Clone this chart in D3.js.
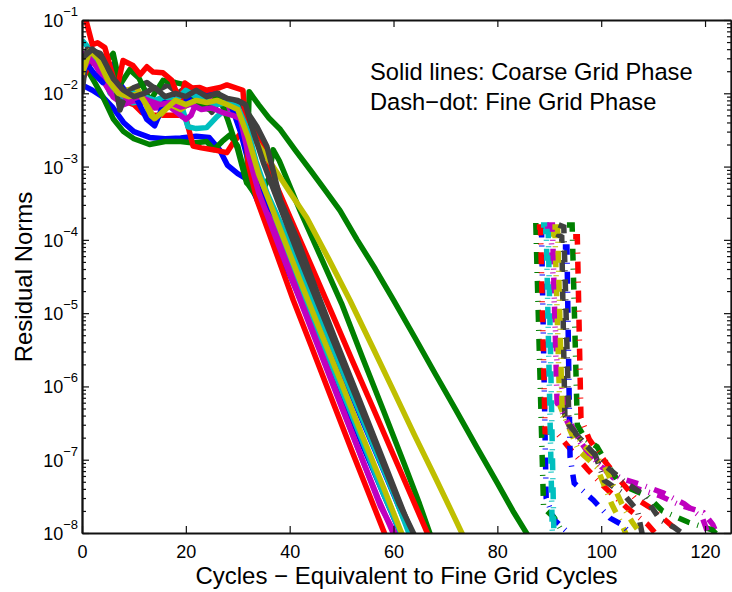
<!DOCTYPE html>
<html>
<head>
<meta charset="utf-8">
<script src="https://cdn.jsdelivr.net/npm/d3@7"></script>
<style>
  body { margin: 0; background: #fff; }
  text { font-family: "Liberation Sans", Arial, sans-serif; fill: #000; }
</style>
</head>
<body>
<svg id="chart" width="732" height="592"></svg>
<script>
// axis ticks
const xTicks = [0, 20, 40, 60, 80, 100, 120];
const yExponents = [-1, -2, -3, -4, -5, -6, -7, -8];

// coarse grid phase (solid) - [cycle, residual]
const coarseBlue1 = [[0,1.3e-2],[2,1.1e-2],[4,8.9e-3],[6,6.3e-3],[8,4e-3],[10,3e-3],[13,2.5e-3],[16,2.4e-3],[19,2.45e-3],[22,2.6e-3],[24.5,2.5e-3],[26.5,1.7e-3],[28,1.05e-3],[30,8e-4],[32,6.6e-4],[34,3.2e-4],[38,7e-5],[42,1.6e-5],[46,3.5e-6],[50,8e-7],[54,1.6e-7],[58,3.5e-8],[61.5,9.3e-9]];
const coarseGreen1 = [[0,2.8e-2],[2,1.6e-2],[4,9e-3],[6,4.5e-3],[8,3e-3],[10,2.4e-3],[13,2e-3],[16,2.2e-3],[19,2.2e-3],[21.5,2.1e-3],[24,2.2e-3],[25.4,1.7e-3],[27,2.2e-3],[28.5,2.7e-3],[30,1.9e-3],[31.8,6e-4],[33.5,4e-4],[35,5e-4],[36,7e-4],[36.8,1.7e-3],[38,1.2e-3],[42,2.5e-4],[46,5.8e-5],[50,1.35e-5],[54,2.5e-6],[58,4.8e-7],[62,9e-8],[65,2.5e-8],[67.2,9e-9]];
const coarseRed1 = [[0,1.5e-2],[2,3e-2],[4,2e-2],[6,1.1e-2],[8,8e-3],[10,7e-3],[11.5,5.5e-3],[12.5,5e-3],[15,5e-3],[18.9,5e-3],[20,4.6e-3],[21.4,1.9e-3],[23,1.8e-3],[25.2,1.7e-3],[27.9,1.55e-3],[29.1,2.1e-3],[30.5,2.8e-3],[32.4,3.5e-3],[34,2.8e-3],[35.6,1.6e-3],[36.5,7.9e-4],[40,2.1e-4],[44,4.7e-5],[48,1.05e-5],[52,2.3e-6],[56,5.2e-7],[60,1.15e-7],[63.5,3.1e-8],[66.7,9.3e-9]];
const coarseCyan1 = [[0,5.3e-2],[1.5,4e-2],[3.5,2.3e-2],[5.4,1e-2],[7.9,8.1e-3],[9.8,7.4e-3],[12,8e-3],[14,7.5e-3],[17,7.9e-3],[19,7.4e-3],[20.4,3.5e-3],[22,3.3e-3],[24,3.4e-3],[26,4.8e-3],[28,6.3e-3],[30,4.5e-3],[32,1.8e-3],[34,6e-4],[38,1.2e-4],[42,2.3e-5],[46,4.5e-6],[50,9e-7],[54,1.8e-7],[58,3.5e-8],[62,8e-9]];
const coarseMagenta1 = [[0,3.5e-2],[2,3.2e-2],[4,1.5e-2],[6,8.9e-3],[8,7e-3],[10,7.9e-3],[12,7.5e-3],[14,6.3e-3],[17,6.5e-3],[19,5e-3],[20,4.4e-3],[21,5e-3],[22.5,9e-3],[25,8.5e-3],[27.5,6.5e-3],[30,5.8e-3],[32,2e-3],[34,5e-4],[38,9e-5],[42,1.6e-5],[46,3e-6],[50,5.5e-7],[54,1e-7],[57,3e-8],[60.2,9e-9]];
const coarseYellow1 = [[0,3e-2],[2,3.5e-2],[4,2.5e-2],[6,1.3e-2],[8.7,1.1e-2],[10.5,1.2e-2],[12,8e-3],[13.7,4e-3],[15,5e-3],[17,7e-3],[19,6e-3],[21,7.5e-3],[23,9e-3],[25,7e-3],[27,7.5e-3],[29,8e-3],[31,7.5e-3],[32.4,3.5e-3],[33.7,2.1e-3],[36.8,1e-3],[40,4.5e-4],[43.3,2e-4],[47.5,5.5e-5],[51.6,1.5e-5],[56,3.4e-6],[60,8.7e-7],[64,2.2e-7],[68,5.8e-8],[71,2.1e-8],[73.5,8.9e-9]];
const coarseGray1 = [[0,1e-2],[1,4e-2],[3.5,3.5e-2],[6,2e-2],[7.3,5.9e-3],[8.5,1e-2],[10,1.2e-2],[12.5,1.4e-2],[14.5,1.1e-2],[16.5,1.3e-2],[18.5,1e-2],[20,1.2e-2],[22,1e-2],[24,7e-3],[25,5.5e-3],[26.5,8e-3],[28,7.6e-3],[30,7.6e-3],[31.5,6e-3],[33.7,3.5e-3],[35.6,1.9e-3],[36.8,8.9e-4],[38.2,3.5e-4],[41.5,1e-4],[45.3,1.9e-5],[49,4e-6],[53,7.8e-7],[57,1.5e-7],[60.5,3.5e-8],[63.8,9e-9]];
const coarseBlue2 = [[0,1.8e-2],[1,2.5e-2],[2.5,1.8e-2],[4,1.4e-2],[5,2.2e-2],[6,2.5e-2],[7.5,1.3e-2],[9,9e-3],[10.5,8.5e-3],[12.5,4.4e-3],[14,3.6e-3],[16,7.9e-3],[18,9e-3],[20,8e-3],[22,9e-3],[24.7,1.1e-2],[27,8e-3],[28.5,7.6e-3],[30.5,3e-3],[32,1.2e-3],[34,5e-4],[37.6,1.9e-4],[42,3.5e-5],[46,7.4e-6],[50,1.6e-6],[54,3.4e-7],[58,7.4e-8],[61,2.3e-8],[63.3,9.5e-9]];
const coarseGreen2 = [[0,2.2e-2],[1.5,3.5e-2],[3,2.8e-2],[4.5,2.6e-2],[6,3.5e-2],[7.3,1.3e-2],[9.2,2.1e-2],[11,1.6e-2],[13.1,7.9e-3],[15.6,1.5e-2],[18,1.4e-2],[20,1.3e-2],[22.7,7e-3],[24.5,6e-3],[26.2,1e-2],[28,4.5e-3],[30,1.7e-3],[31.7,6e-4],[32.2,1.05e-2],[34,7e-3],[36,4.6e-3],[38.2,3.2e-3],[41,1.7e-3],[44,8.9e-4],[47,4.6e-4],[49.7,2.5e-4],[53,1e-4],[56.5,4e-5],[60,1.5e-5],[64,4.8e-6],[68,1.5e-6],[72,4.8e-7],[76,1.5e-7],[80,4.8e-8],[83,2e-8],[86,9e-9]];
const coarseRed2 = [[0,1.6e-1],[2,4.6e-2],[3,4.9e-2],[4.4,4.2e-2],[6.7,1.1e-2],[7.9,2.8e-2],[9.8,2.4e-2],[11.2,1.8e-2],[12.5,2.3e-2],[13.7,1.95e-2],[15.6,1.9e-2],[17.3,1.5e-2],[18.9,7.6e-3],[19.8,1.38e-2],[21.2,1.18e-2],[22.7,1.2e-2],[24,1.1e-2],[26.6,1.2e-2],[27.9,1.3e-2],[31,1.1e-2],[32,1.1e-3],[33.7,3.5e-4],[36,1.25e-4],[40.7,1.5e-5],[44,3.8e-6],[48,7e-7],[52,1.3e-7],[55,3.8e-8],[58.5,9e-9]];
const coarseCyan2 = [[0,2.5e-2],[2,3.5e-2],[4,2e-2],[6,1.2e-2],[8,9e-3],[10,1e-2],[12,9e-3],[14,8e-3],[16,9e-3],[18,8e-3],[20,1.1e-2],[22,9e-3],[24,8e-3],[26,7e-3],[28,7.5e-3],[30,6.5e-3],[32,3e-3],[33.5,1.2e-3],[35.6,4.4e-4],[40,9e-5],[44.5,1.5e-5],[48,3.8e-6],[52,8e-7],[56,1.65e-7],[60,3.5e-8],[63.2,9e-9]];
const coarseMagenta2 = [[0,2e-2],[1.5,3e-2],[3,2.2e-2],[5,1.5e-2],[7,1.1e-2],[9,8e-3],[11,9e-3],[13,7.9e-3],[15,7e-3],[17,7.5e-3],[19,6.5e-3],[21,7.1e-3],[23,6e-3],[25,6.3e-3],[27,5.5e-3],[29,5e-3],[30.5,4.5e-3],[32,1.5e-3],[34,4.5e-4],[38,8e-5],[42,1.5e-5],[46,2.8e-6],[50,5.2e-7],[54,1e-7],[57.5,2.3e-8],[60.6,8.9e-9]];
const coarseYellow2 = [[0,1.8e-2],[1.5,3.8e-2],[3,3e-2],[5,1.5e-2],[7,1e-2],[9,9e-3],[11,1e-2],[13,6e-3],[14,4.5e-3],[16,6e-3],[18,8e-3],[20,7e-3],[22,8e-3],[24,7.5e-3],[26,8e-3],[28,7e-3],[30,6e-3],[32,2.5e-3],[34,8e-4],[38,1.5e-4],[42,2.8e-5],[46,5.5e-6],[50,1.1e-6],[54,2.1e-7],[58,4.3e-8],[61.8,9e-9]];
const coarseGray2 = [[0,3e-2],[2,4e-2],[4,3e-2],[6,1.6e-2],[8,1.1e-2],[10,9e-3],[12,1e-2],[14,1.2e-2],[16,9e-3],[18,1e-2],[20,9e-3],[22,1.1e-2],[24,9e-3],[26,1e-2],[28,8.5e-3],[30,8e-3],[31.5,7e-3],[33,3e-3],[35,1.1e-3],[38,3e-4],[42,5.5e-5],[46,1.1e-5],[50,2.2e-6],[54,4.4e-7],[58,8.8e-8],[61,2.6e-8],[64.2,8.8e-9]];

// fine grid phase (dash-dot)
const fineBlue1 = [[87.8,1.4e-4],[88.5,1.4e-4],[89.4,3e-8],[91,1.5e-8],[94.5,8.9e-9]];
const fineGreen1 = [[87.4,1.7e-4],[88.9,2.2e-8],[91,1.6e-8],[93,9e-9]];
const fineRed1 = [[87.6,1.5e-4],[88.3,1.5e-4],[89.2,2.4e-7],[91.5,2.3e-7],[94.4,1.3e-7],[97.5,7.2e-8],[101,4e-8],[105,2.2e-8],[109,1.3e-8],[111,8.9e-9]];
const fineCyan1 = [[88.4,1.6e-4],[89.4,1.6e-4],[90.6,8.9e-9]];
const fineMagenta1 = [[89.2,1.4e-4],[90.3,1.4e-4],[91.5,2e-6],[93.6,3.7e-7],[96,1.7e-7],[98.5,1e-7],[102.3,5.7e-8],[106.2,4.2e-8],[111.4,3.2e-8],[115.2,2.4e-8],[119.7,1.9e-8],[121.5,1.3e-8],[122.5,9e-9]];
const fineYellow1 = [[89.6,1.2e-4],[91.1,1.2e-4],[92,5.6e-7],[95.6,1.35e-7],[99.2,7.8e-8],[102,2.5e-8],[104,1.3e-8],[105,8.9e-9]];
const fineGray1 = [[91.4,1.2e-4],[92.4,1.1e-4],[93,4e-7],[95.2,2.2e-7],[98.8,1.2e-7],[100.6,5.2e-8],[104.2,3.5e-8],[107,2e-8],[108,8.9e-9]];
const fineBlue2 = [[92.6,8e-5],[93.4,8e-5],[94,1.1e-7],[94.8,4.8e-8],[98.5,2.8e-8],[101.7,1.6e-8],[104,1.3e-8],[106.2,8.9e-9]];
const fineGreen2 = [[93.4,1.6e-4],[94.4,1.6e-4],[95.4,3e-7],[97,1.9e-7],[99.2,1.5e-7],[101.5,8e-8],[103.7,4.6e-8],[108.9,3.2e-8],[111.8,2e-8],[116.8,1.4e-8],[121.4,1.1e-8],[123,8.5e-9]];
const fineRed2 = [[94.6,1.1e-4],[95.4,1.1e-4],[96.1,3.7e-7],[97.7,1.9e-7],[100.8,9.3e-8],[103.3,5.6e-8],[106.5,3e-8],[110,2.1e-8],[113.9,1.2e-8],[115,8.9e-9]];
const fineCyan2 = [[88.8,1.3e-4],[89.8,1.3e-4],[90.9,8.9e-9]];
const fineMagenta2 = [[89.6,1.6e-4],[90.6,1.6e-4],[91.5,6e-7],[94,2.8e-7],[97,1.4e-7],[100,8e-8],[104,5.5e-8],[108,4.5e-8],[112,3.5e-8],[116,2.5e-8],[119.5,1.6e-8],[120.8,8.9e-9]];
const fineYellow2 = [[90.6,1.5e-4],[91.6,1.5e-4],[92.5,4e-7],[96.5,1.6e-7],[100.5,8.5e-8],[104.2,2.3e-8],[106,1.4e-8],[108,8.9e-9]];
const fineGray2 = [[91.8,1.6e-4],[92.8,1.5e-4],[93.8,3e-7],[97,1.6e-7],[101,8e-8],[104.5,5e-8],[108,3.4e-8],[111.4,1.5e-8],[114,1.2e-8],[116.5,8.9e-9]];

const colorOrder = ['#0000ff', '#008000', '#ff0000', '#00bfbf', '#bf00bf', '#bfbf00', '#404040'];

const coarse = [coarseBlue1, coarseGreen1, coarseRed1, coarseCyan1, coarseMagenta1, coarseYellow1, coarseGray1,
                coarseBlue2, coarseGreen2, coarseRed2, coarseCyan2, coarseMagenta2, coarseYellow2, coarseGray2];
const fine = [fineBlue1, fineGreen1, fineRed1, fineCyan1, fineMagenta1, fineYellow1, fineGray1,
              fineBlue2, fineGreen2, fineRed2, fineCyan2, fineMagenta2, fineYellow2, fineGray2];

const svg = d3.select('#chart');
const plotLeft = 82, plotRight = 731, plotTop = 20, plotBottom = 533;

const x = d3.scaleLinear().domain([0, 125]).range([plotLeft, plotRight]);
const y = d3.scaleLog().domain([1e-8, 1e-1]).range([plotBottom, plotTop]);

svg.append('defs').append('clipPath').attr('id', 'plot')
    .append('rect').attr('x', plotLeft).attr('y', plotTop)
    .attr('width', plotRight - plotLeft).attr('height', plotBottom - plotTop);

const line = d3.line().x(d => x(d[0])).y(d => y(d[1]));

const plot = svg.append('g').attr('clip-path', 'url(#plot)');

plot.selectAll('path.coarse')
    .data(coarse)
    .enter()
    .append('path')
    .attr('class', 'coarse')
    .attr('d', line)
    .attr('fill', 'none')
    .attr('stroke', (d, i) => colorOrder[i % 7])
    .attr('stroke-width', 5.5)
    .attr('stroke-linejoin', 'round');

plot.selectAll('path.fine')
    .data(fine)
    .enter()
    .append('path')
    .attr('class', 'fine')
    .attr('d', line)
    .attr('fill', 'none')
    .attr('stroke', (d, i) => colorOrder[i % 7])
    .attr('stroke-width', 5.5)
    .attr('stroke-linecap', 'butt')
    .attr('stroke-dasharray', '12,8,1,8');

// axes
const majors = yExponents.map(e => Math.pow(10, e));
const minors = [];
yExponents.slice(1).forEach(e => { for (let k = 2; k <= 9; k++) minors.push(k * Math.pow(10, e)); });

function styleAxis (g) {
    g.selectAll('path.domain').attr('stroke', '#111').attr('stroke-width', 1.8);
    g.selectAll('.tick line').attr('stroke', '#111').attr('stroke-width', 1.2);
}

svg.append('g').attr('transform', `translate(0,${plotBottom})`)
    .call(d3.axisBottom(x).tickValues(xTicks).tickSizeInner(-7).tickSizeOuter(0).tickPadding(12))
    .call(styleAxis)
    .call(g => g.selectAll('.tick text').attr('font-size', 18).attr('fill', '#000')
        .attr('font-family', '"Liberation Sans", Arial, sans-serif'));

svg.append('g').attr('transform', `translate(0,${plotTop})`)
    .call(d3.axisTop(x).tickValues(xTicks).tickSizeInner(-7).tickSizeOuter(0).tickFormat(''))
    .call(styleAxis);

svg.append('g').attr('transform', `translate(${plotLeft},0)`)
    .call(d3.axisLeft(y).tickValues(majors).tickSizeInner(-7).tickSizeOuter(0).tickFormat(''))
    .call(styleAxis);

svg.append('g').attr('transform', `translate(${plotLeft},0)`)
    .call(d3.axisLeft(y).tickValues(minors).tickSizeInner(-4).tickSizeOuter(0).tickFormat(''))
    .call(styleAxis);

svg.append('g').attr('transform', `translate(${plotRight},0)`)
    .call(d3.axisRight(y).tickValues(majors).tickSizeInner(-7).tickSizeOuter(0).tickFormat(''))
    .call(styleAxis);

svg.append('g').attr('transform', `translate(${plotRight},0)`)
    .call(d3.axisRight(y).tickValues(minors).tickSizeInner(-4).tickSizeOuter(0).tickFormat(''))
    .call(styleAxis);

// y tick labels 10^n
const ylab = svg.append('g');
yExponents.forEach(e => {
    const t = ylab.append('text')
        .attr('x', 78)
        .attr('y', y(Math.pow(10, e)) + 7)
        .attr('text-anchor', 'end')
        .attr('font-size', 18);
    t.append('tspan').text('10');
    t.append('tspan').attr('dy', -11).attr('font-size', 13).text('\u2212' + Math.abs(e));
});

// axis titles
svg.append('text')
    .attr('x', (plotLeft + plotRight) / 2)
    .attr('y', 584)
    .attr('text-anchor', 'middle')
    .attr('font-size', 24)
    .text('Cycles \u2212 Equivalent to Fine Grid Cycles');

svg.append('text')
    .attr('transform', 'translate(32,277) rotate(-90)')
    .attr('text-anchor', 'middle')
    .attr('font-size', 24)
    .text('Residual Norms');

// annotation
svg.append('text').attr('x', 370).attr('y', 80).attr('font-size', 23.7)
    .text('Solid lines: Coarse Grid Phase');
svg.append('text').attr('x', 370).attr('y', 110).attr('font-size', 23.7)
    .text('Dash\u2212dot: Fine Grid Phase');
</script>
</body>
</html>
